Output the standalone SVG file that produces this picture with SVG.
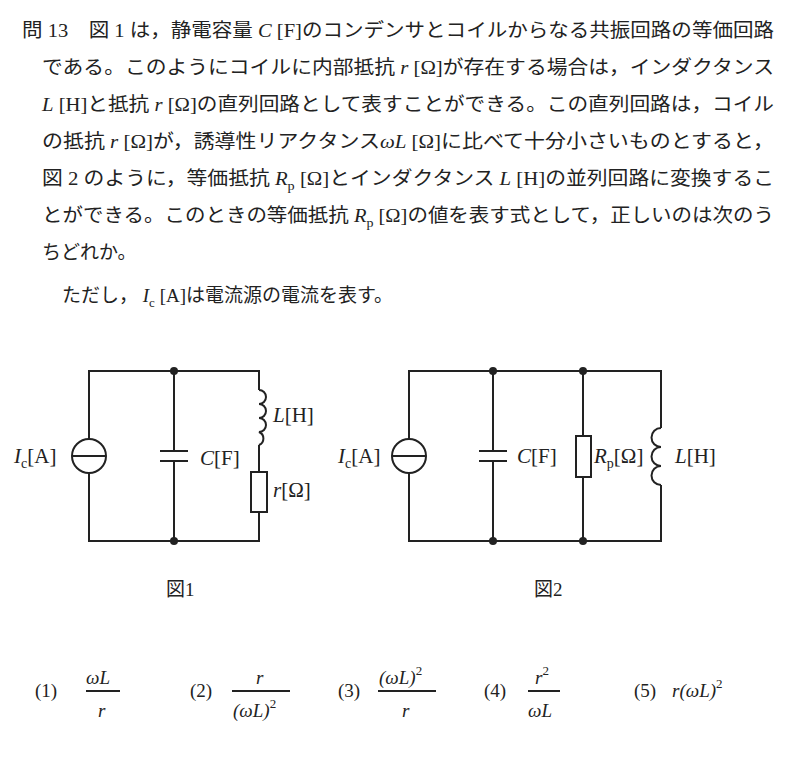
<svg xmlns="http://www.w3.org/2000/svg" width="791" height="781" viewBox="0 0 791 781">
<style>
.t{font-family:"Liberation Serif","Noto Sans CJK JP",serif;font-size:19px;fill:#222}
.c{font-size:21px}
.i{font-style:italic}
.w{stroke:#222;stroke-width:2;fill:none}
.d{fill:#222}
</style>
<rect width="791" height="781" fill="#fff"/>
<g id="question" class="t">
<text x="22" y="37" textLength="752" lengthAdjust="spacingAndGlyphs">問 13　図 1 は，静電容量 <tspan class="i">C</tspan> [F]のコンデンサとコイルからなる共振回路の等価回路</text>
<text x="42" y="74" textLength="732" lengthAdjust="spacingAndGlyphs">である。このようにコイルに内部抵抗 <tspan class="i">r</tspan> [Ω]が存在する場合は，インダクタンス</text>
<text x="42" y="111" textLength="732" lengthAdjust="spacingAndGlyphs"><tspan class="i">L</tspan> [H]と抵抗 <tspan class="i">r</tspan> [Ω]の直列回路として表すことができる。この直列回路は，コイル</text>
<text x="42" y="148" textLength="732" lengthAdjust="spacingAndGlyphs">の抵抗 <tspan class="i">r</tspan> [Ω]が，誘導性リアクタンス<tspan class="i">ωL</tspan> [Ω]に比べて十分小さいものとすると，</text>
<text x="42" y="185" textLength="732" lengthAdjust="spacingAndGlyphs">図 2 のように，等価抵抗 <tspan class="i">R</tspan><tspan font-size="13" dy="5">p</tspan><tspan dy="-5"> [Ω]とインダクタンス </tspan><tspan class="i">L</tspan> [H]の並列回路に変換するこ</text>
<text x="42" y="222" textLength="732" lengthAdjust="spacingAndGlyphs">とができる。このときの等価抵抗 <tspan class="i">R</tspan><tspan font-size="13" dy="5">p</tspan><tspan dy="-5"> [Ω]の値を表す式として，正しいのは次のう</tspan></text>
<text x="42" y="259">ちどれか。</text>
<text x="62" y="302">ただし， <tspan class="i">I</tspan><tspan font-size="13" dy="5">c</tspan><tspan dy="-5"> [A]は電流源の電流を表す。</tspan></text>
</g>
<g id="connectors">
<path class="w" d="M89 439V371H259V390M259 445V472M259 512V541H89V473M174 371V451M174 461V541"/>
<path class="w" d="M259 390a7 7 0 0 1 0 14a7 7 0 0 1 0 14a7 7 0 0 1 0 14a7 7 0 0 1 0 13"/>
<path class="w" d="M160 451H188M160 461H188"/>
<path class="w" d="M409 439V371H661V428M661 485V541H409V473M493 371V451M493 461V541M583 371V436M583 477V541"/>
<path class="w" d="M661 428a5 5 0 0 0 0 19a5 5 0 0 0 0 19a5 5 0 0 0 0 19"/>
<path class="w" d="M479 451H507M479 461H507"/>
</g>
<g id="src1"><circle class="w" cx="89" cy="456" r="17"/><path class="w" d="M72 456H106"/></g>
<g id="src2"><circle class="w" cx="409" cy="456" r="17"/><path class="w" d="M392 456H426"/></g>
<g id="r1"><rect class="w" x="251" y="472" width="16" height="40" fill="#fff"/></g>
<g id="rp"><rect class="w" x="576" y="436" width="15" height="41" fill="#fff"/></g>
<g id="dots" class="d">
<circle cx="174" cy="371" r="4"/><circle cx="174" cy="541" r="4"/>
<circle cx="493" cy="371" r="4"/><circle cx="493" cy="541" r="4"/>
<circle cx="583" cy="371" r="4"/><circle cx="583" cy="541" r="4"/>
</g>
<g id="labels" class="t c">
<text x="14" y="463"><tspan class="i">I</tspan><tspan font-size="14" dy="5">c</tspan><tspan dy="-5">[A]</tspan></text>
<text x="200" y="465"><tspan class="i">C</tspan>[F]</text>
<text x="273" y="422"><tspan class="i">L</tspan>[H]</text>
<text x="273" y="497"><tspan class="i">r</tspan>[Ω]</text>
<text x="338" y="463"><tspan class="i">I</tspan><tspan font-size="14" dy="5">c</tspan><tspan dy="-5">[A]</tspan></text>
<text x="517" y="463"><tspan class="i">C</tspan>[F]</text>
<text x="594" y="463"><tspan class="i">R</tspan><tspan font-size="14" dy="5">p</tspan><tspan dy="-5">[Ω]</tspan></text>
<text x="675" y="463"><tspan class="i">L</tspan>[H]</text>
<text x="166" y="596" font-size="19">図1</text>
<text x="534" y="596" font-size="19">図2</text>
</g>
<g id="choices" class="t" font-size="20">
<path class="w" stroke-width="1" d="M86 691H120M232 691H290M378 691H436M528 691H560"/>
<text x="35" y="697">(1)</text>
<text x="86" y="684" class="i">ωL</text><text x="98" y="717" class="i">r</text>
<text x="190" y="697">(2)</text>
<text x="256" y="684" class="i">r</text><text x="233" y="717"><tspan class="i">(ωL)</tspan><tspan font-size="13" dy="-9">2</tspan></text>
<text x="338" y="697">(3)</text>
<text x="379" y="684"><tspan class="i">(ωL)</tspan><tspan font-size="13" dy="-9">2</tspan></text><text x="402" y="717" class="i">r</text>
<text x="484" y="697">(4)</text>
<text x="535" y="684"><tspan class="i">r</tspan><tspan font-size="13" dy="-9">2</tspan></text><text x="528" y="717" class="i">ωL</text>
<text x="634" y="697">(5)</text>
<text x="672" y="697"><tspan class="i">r(ωL)</tspan><tspan font-size="13" dy="-9">2</tspan></text>
</g>
</svg>
